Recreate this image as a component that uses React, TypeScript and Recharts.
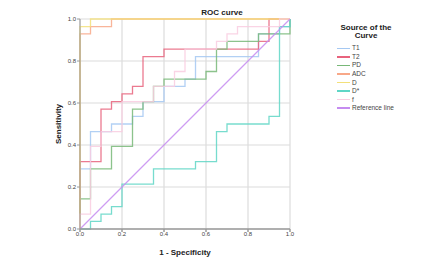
import { LineChart, Line, XAxis, YAxis, CartesianGrid } from "recharts";

// ROC points as [1 - specificity, sensitivity]
const t1Points = [
  [0, 0], [0, 0.286], [0.05, 0.286], [0.05, 0.464], [0.15, 0.464], [0.15, 0.5],
  [0.25, 0.5], [0.25, 0.536], [0.3, 0.536], [0.3, 0.607], [0.4, 0.607], [0.4, 0.679],
  [0.5, 0.679], [0.5, 0.714], [0.55, 0.714], [0.55, 0.821], [0.85, 0.821], [0.85, 0.929],
  [0.95, 0.929], [0.95, 0.964], [1, 0.964], [1, 1],
];
const t2Points = [
  [0, 0], [0, 0.321], [0.1, 0.321], [0.1, 0.571], [0.15, 0.571], [0.15, 0.607],
  [0.2, 0.607], [0.2, 0.643], [0.25, 0.643], [0.25, 0.679], [0.3, 0.679], [0.3, 0.821],
  [0.4, 0.821], [0.4, 0.857], [0.85, 0.857], [0.85, 0.893], [0.9, 0.893], [0.9, 1], [1, 1],
];
const pdPoints = [
  [0, 0], [0, 0.143], [0.05, 0.143], [0.05, 0.286], [0.15, 0.286], [0.15, 0.393],
  [0.25, 0.393], [0.25, 0.571], [0.3, 0.571], [0.3, 0.607], [0.35, 0.607], [0.35, 0.679],
  [0.4, 0.679], [0.4, 0.714], [0.6, 0.714], [0.6, 0.75], [0.65, 0.75], [0.65, 0.857],
  [0.7, 0.857], [0.7, 0.893], [0.85, 0.893], [0.85, 0.929], [1, 0.929], [1, 1],
];
const adcPoints = [
  [0, 0], [0, 0.929], [0.05, 0.929], [0.05, 0.964], [0.15, 0.964], [0.15, 1], [1, 1],
];
const dPoints = [[0, 0], [0, 0.964], [0.05, 0.964], [0.05, 1], [1, 1]];
const dStarPoints = [
  [0, 0], [0.05, 0], [0.05, 0.036], [0.1, 0.036], [0.1, 0.071], [0.15, 0.071],
  [0.15, 0.107], [0.2, 0.107], [0.2, 0.214], [0.35, 0.214], [0.35, 0.286], [0.55, 0.286],
  [0.55, 0.321], [0.65, 0.321], [0.65, 0.464], [0.7, 0.464], [0.7, 0.5], [0.9, 0.5],
  [0.9, 0.536], [0.95, 0.536], [0.95, 0.964], [1, 0.964], [1, 1],
];
const fPoints = [
  [0, 0], [0, 0.071], [0.05, 0.071], [0.05, 0.393], [0.1, 0.393], [0.1, 0.464],
  [0.2, 0.464], [0.2, 0.607], [0.35, 0.607], [0.35, 0.679], [0.45, 0.679], [0.45, 0.75],
  [0.5, 0.75], [0.5, 0.857], [0.65, 0.857], [0.65, 0.893], [0.7, 0.893], [0.7, 0.929],
  [0.75, 0.929], [0.75, 0.964], [0.95, 0.964], [0.95, 1], [1, 1],
];
const refPoints = [[0, 0], [1, 1]];

const seriesNames = ["T1", "T2", "PD", "ADC", "D", "D*", "f", "Reference line"];
const seriesColors = ["#a5c8f2", "#e8637d", "#78b878", "#f8a888", "#f3e07a", "#5fd6c6", "#f9cde0", "#c58cf0"];
const seriesPoints = [t1Points, t2Points, pdPoints, adcPoints, dPoints, dStarPoints, fPoints, refPoints];

const axisTicks = [0, 0.2, 0.4, 0.6, 0.8, 1];

const font = "'Liberation Sans', Arial, sans-serif";

export default function App() {
  const series = seriesNames.map((name, i) => ({
    name,
    color: seriesColors[i],
    data: seriesPoints[i].map(([x, y]) => ({ x, y })),
  }));

  return (
    <div style={{ position: "absolute", left: 0, top: 0, width: 446, height: 264, background: "#fff", fontFamily: font }}>
      <LineChart width={446} height={264} margin={{ top: 19, right: 156, bottom: 0, left: 0 }}>
        <CartesianGrid stroke="#dcdcdc" strokeWidth={1.2} />
        <XAxis
          type="number"
          dataKey="x"
          domain={[0, 1]}
          ticks={axisTicks}
          tickFormatter={(v: number) => v.toFixed(1)}
          height={35}
          tickSize={3}
          tickMargin={0}
          stroke="#9a9a9a"
          strokeWidth={1.5}
          tick={{ fontSize: 6, fill: "#444", fontFamily: font }}
          label={{ value: "1 - Specificity", position: "insideBottom", offset: 9, style: { fontSize: 8, fontWeight: 700, fill: "#222", fontFamily: font } }}
        />
        <YAxis
          type="number"
          domain={[0, 1]}
          ticks={axisTicks}
          tickFormatter={(v: number) => v.toFixed(1)}
          width={80}
          tickSize={3}
          tickMargin={1}
          stroke="#9a9a9a"
          tick={{ fontSize: 6, fill: "#444", fontFamily: font }}
          label={{ value: "Sensitivity", angle: -90, position: "insideLeft", offset: 58, style: { textAnchor: "middle", fontSize: 8, fontWeight: 700, fill: "#222", fontFamily: font } }}
        />
        {series.map((s) => (
          <Line
            key={s.name}
            data={s.data}
            dataKey="y"
            type="linear"
            stroke={s.color}
            strokeWidth={1.3}
            strokeOpacity={0.85}
            dot={false}
            activeDot={false}
            isAnimationActive={false}
          />
        ))}
      </LineChart>

      <div style={{ position: "absolute", left: 172, top: 8, width: 100, textAlign: "center", fontSize: 8, fontWeight: 700, color: "#222", lineHeight: "10px" }}>
        ROC curve
      </div>

      <div style={{ position: "absolute", left: 316, top: 24, width: 100 }}>
        <div style={{ textAlign: "center", fontSize: 8, fontWeight: 700, color: "#222", lineHeight: "8px" }}>
          Source of the
          <br />
          Curve
        </div>
        <div style={{ marginTop: 4 }}>
          {series.map((s) => (
            <div key={s.name} style={{ display: "flex", alignItems: "center", height: 8.57, paddingLeft: 21 }}>
              <span style={{ display: "inline-block", width: 13, height: 1.5, background: s.color, marginRight: 2 }} />
              <span style={{ fontSize: 6.5, color: "#444", lineHeight: "8px" }}>{s.name}</span>
            </div>
          ))}
        </div>
      </div>
    </div>
  );
}
